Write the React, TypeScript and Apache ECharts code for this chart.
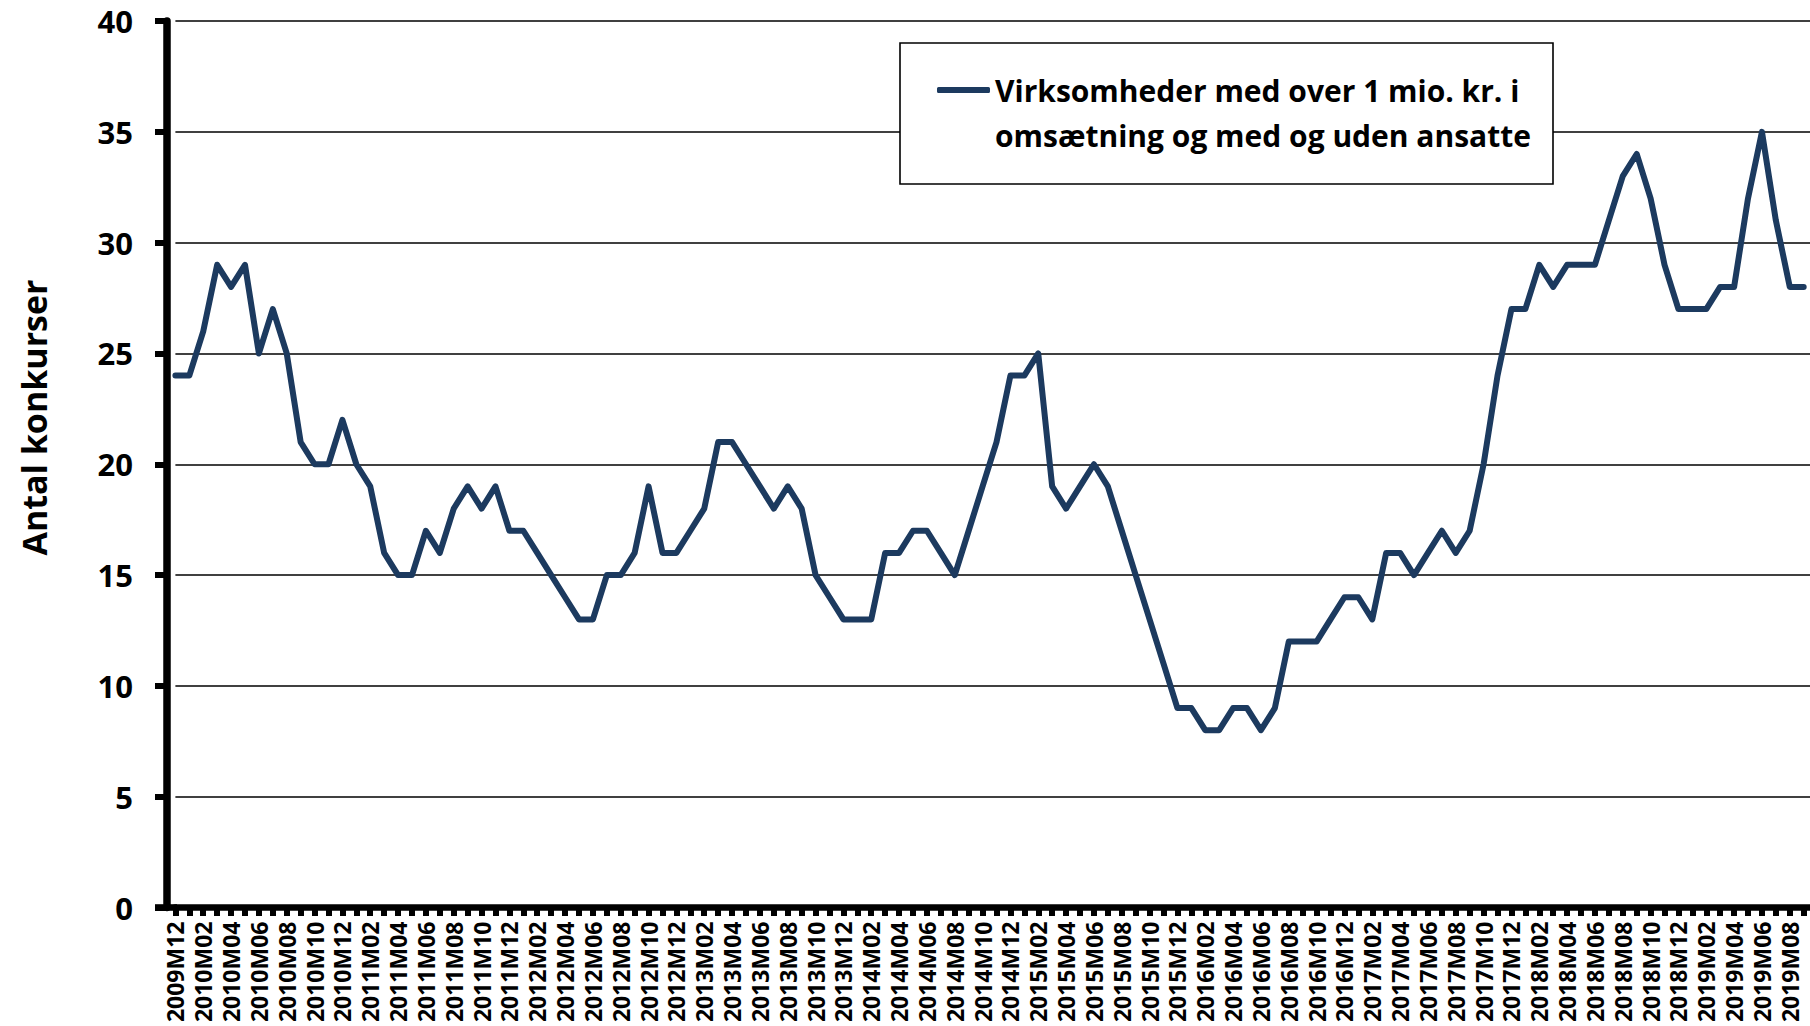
import React, { useEffect, useRef } from "react";
import * as echarts from "echarts";

// Monthly bankruptcies, 2009M12 .. 2019M10
const seriesName = "Virksomheder med over 1 mio. kr. i\nomsætning og med og uden ansatte";
const values2009_2011: (number | null)[] = [24, 24, 26, 29, 28, 29, 25, 27, 25, 21, 20, 20, 22, 20, 19, 16, 15, 15, 17, 16, 18, 19, 18, 19, 17];
const values2012_2013: (number | null)[] = [17, 16, 15, 14, 13, 13, 15, 15, 16, 19, 16, 16, 17, 18, 21, 21, 20, 19, 18, 19, 18, 15, 14, 13];
const values2014_2015: (number | null)[] = [13, 13, 16, 16, 17, 17, 16, 15, 17, 19, 21, 24, 24, 25, 19, 18, 19, 20, 19, 17, 15, 13, 11, 9];
const values2016_2017: (number | null)[] = [9, 8, 8, 9, 9, 8, 9, 12, 12, 12, 13, 14, 14, 13, 16, 16, 15, 16, 17, 16, 17, 20, 24, 27];
const values2018_2019: (number | null)[] = [27, 29, 28, 29, 29, 29, 31, 33, 34, 32, 29, 27, 27, 27, 28, 28, 32, 35, 31, 28, 28, null];

const values = [...values2009_2011, ...values2012_2013, ...values2014_2015, ...values2016_2017, ...values2018_2019];

const categories: string[] = [];
{
  let y = 2009;
  let m = 12;
  for (let i = 0; i < values.length; i++) {
    categories.push(`${y}M${m < 10 ? "0" + m : m}`);
    m++;
    if (m > 12) {
      m = 1;
      y++;
    }
  }
}

const yMin = 0;
const yMax = 40;
const yStep = 5;
const yTitle = "Antal konkurser";

const FONT = "'Open Sans', 'Liberation Sans', sans-serif";
const LINE_COLOR = "#1c3a5f";

export default function App() {
  const ref = useRef<HTMLDivElement>(null);
  useEffect(() => {
    if (!ref.current) return;
    const chart = echarts.init(ref.current, undefined, { renderer: "svg" });
    const left = 175.4;
    const top = 21;
    const bottomY = 907.5;
    const step = 13.917;
    const gridWidth = step * (categories.length - 1);
    const lastIdx = categories.length - 1;
    chart.setOption({
      animation: false,
      backgroundColor: "#ffffff",
      grid: {
        left,
        top,
        width: gridWidth,
        height: bottomY - top,
        containLabel: false,
        outerBoundsMode: "none",
      },
      xAxis: {
        type: "category",
        data: categories,
        boundaryGap: false,
        axisLine: { show: true, lineStyle: { color: "#000", width: 6.5 } },
        axisTick: { show: true, interval: 0, length: 8.5, lineStyle: { color: "#000", width: 6 } },
        axisLabel: {
          interval: (idx: number) => idx % 2 === 0 && idx < lastIdx,
          rotate: 90,
          margin: 14,
          fontFamily: FONT,
          fontWeight: "bold",
          fontSize: 23,
          color: "#000",
        },
        splitLine: { show: false },
      },
      yAxis: {
        type: "value",
        min: yMin,
        max: yMax,
        interval: yStep,
        offset: 8.4,
        axisLine: { show: true, lineStyle: { color: "#000", width: 7.5 } },
        axisTick: { show: true, length: 12, lineStyle: { color: "#000", width: 6 } },
        axisLabel: {
          margin: 34,
          fontFamily: FONT,
          fontWeight: "bold",
          fontSize: 31,
          color: "#000",
        },
        splitLine: { show: true, lineStyle: { color: "#000", width: 1.7 } },
      },
      legend: {
        show: true,
        left: 937,
        top: 22.5,
        padding: 0,
        itemWidth: 53,
        itemHeight: 6,
        data: [{ name: seriesName, icon: "roundRect" }],
        selectedMode: false,
        formatter: (name: string) => "\n" + name,
        textStyle: {
          fontFamily: FONT,
          fontWeight: "bold",
          fontSize: 30,
          lineHeight: 45,
          color: "#000",
        },
        itemStyle: { color: LINE_COLOR },
        z: 5,
      },
      graphic: [
        {
          type: "rect",
          z: 4,
          shape: { x: 900, y: 43, width: 653, height: 141 },
          style: { fill: "#fff", stroke: "#000", lineWidth: 1.6 },
        },
        {
          type: "rect",
          z: 6,
          shape: { x: 155, y: 904.2, width: 22, height: 6.6 },
          style: { fill: "#000" },
        },
        {
          type: "text",
          z: 6,
          x: 34,
          y: 417.5,
          rotation: Math.PI / 2,
          style: {
            text: yTitle,
            fontFamily: FONT,
            fontWeight: "bold",
            fontSize: 34,
            fill: "#000",
            align: "center",
            verticalAlign: "middle",
          },
        },
      ],
      series: [
        {
          name: seriesName,
          type: "line",
          data: values,
          symbol: "none",
          showSymbol: false,
          connectNulls: false,
          lineStyle: { color: LINE_COLOR, width: 6, cap: "round", join: "round" },
          itemStyle: { color: LINE_COLOR },
          z: 3,
        },
      ],
    });
    return () => chart.dispose();
  }, []);
  return (
    <div
      ref={ref}
      style={{ position: "fixed", left: 0, top: 0, width: 1810, height: 1026, overflow: "hidden" }}
    />
  );
}
